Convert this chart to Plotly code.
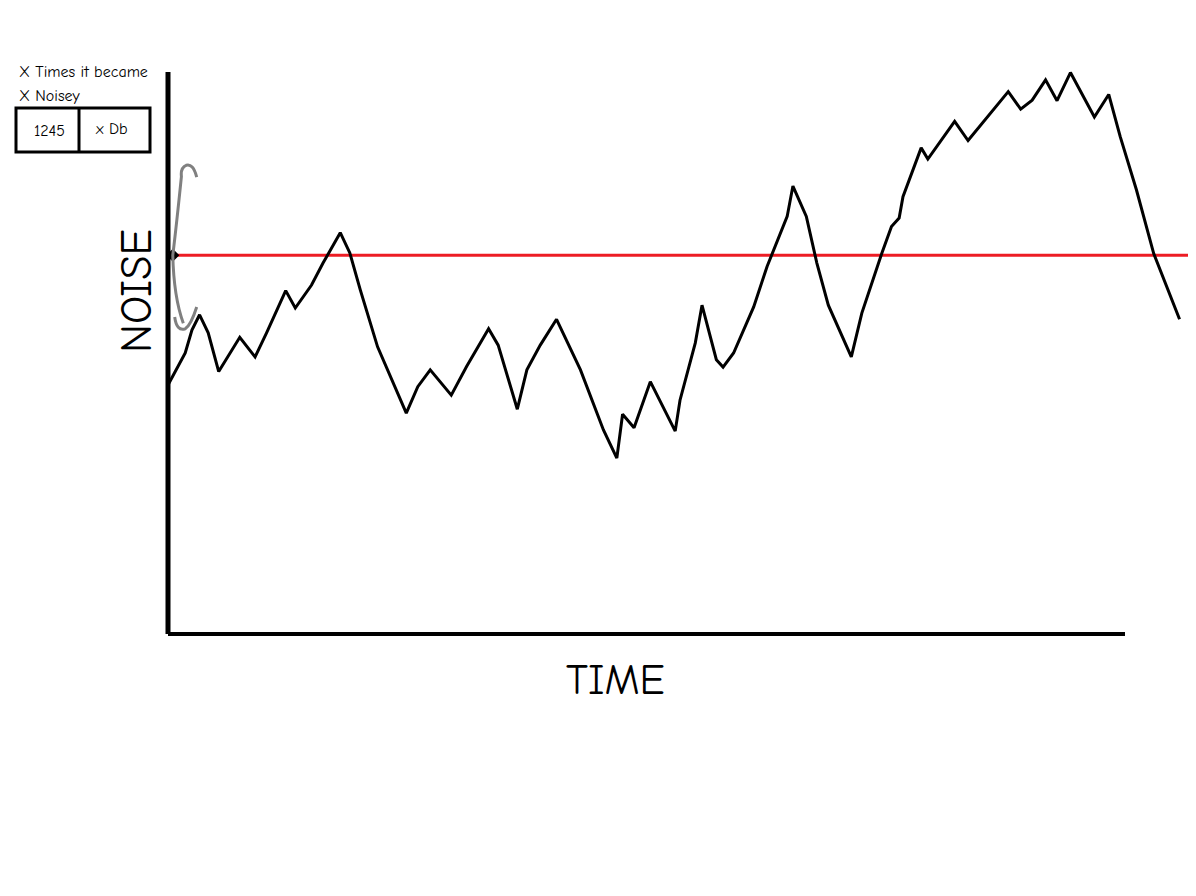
import plotly.graph_objects as go

# noise level over time (time 0-100 = length of x axis)
time = [0.0, 1.8, 2.5, 3.3, 4.2, 5.3, 7.5, 9.1, 10.3, 12.3, 13.3, 15.0, 16.2, 18.0, 19.0,
        20.1, 21.9, 24.9, 26.1, 27.4, 29.6, 31.2, 33.5, 34.5, 36.5, 37.5, 38.9, 40.6, 43.1,
        45.5, 46.9, 47.5, 48.7, 50.4, 53.0, 53.5, 55.1, 55.8, 57.3, 58.0, 59.1, 61.2, 62.6,
        64.7, 65.3, 66.7, 67.8, 69.0, 71.4, 72.5, 74.6, 75.6, 76.4, 76.8, 78.7, 79.4, 82.2,
        83.6, 87.8, 89.1, 90.3, 91.7, 92.9, 94.3, 96.8, 98.3, 99.5, 101.2, 103.0, 105.7]
noise = [44.3, 50.0, 54.1, 56.8, 53.6, 46.7, 52.8, 49.3, 53.6, 61.1, 58.0, 62.1, 66.0, 71.4, 67.8,
         61.2, 51.1, 39.3, 44.0, 47.0, 42.5, 47.6, 54.3, 51.4, 40.0, 47.0, 51.4, 56.0, 47.0,
         36.3, 31.3, 39.1, 36.7, 44.9, 36.1, 41.6, 51.8, 58.5, 48.8, 47.5, 50.0, 58.2, 65.4,
         74.3, 79.7, 74.3, 66.0, 58.5, 49.3, 57.1, 67.8, 72.5, 74.0, 77.8, 86.5, 84.5, 91.2,
         87.8, 96.5, 93.4, 95.0, 98.6, 94.9, 99.9, 92.0, 96.0, 88.5, 79.0, 67.7, 56.0]
threshold = 67.4
threshold_span = [0, 107.4]

box_values = ["1245", "x Db"]
title_lines = ["X Times it became", "X Noisey"]

FONT = "Comic Sans MS, Comic Neue, Lato, sans-serif"

# page puts the figure 8px in from the corner, so shift everything back by that
OFF = 8
W, H = 1196 - OFF, 896 - OFF
L, R, T, B = 142, 0, 0, 232
PW, PH = W - L - R, H - T - B


def px(x):
    return (x - OFF - L) / PW


def py(y):
    return (H - B - (y - OFF)) / PH


# sketch pixels -> data units
X0, XS = 168, 9.57
Y0, YS = 634, 5.62

fig = go.Figure()

fig.add_trace(go.Scatter(x=threshold_span, y=[threshold, threshold], mode="lines",
                         line=dict(color="#ED1C24", width=3), hoverinfo="skip"))
fig.add_trace(go.Scatter(x=time, y=noise, mode="lines",
                         line=dict(color="black", width=3), hoverinfo="skip"))
fig.add_trace(go.Scatter(x=[0.5], y=[threshold], mode="markers",
                         marker=dict(color="black", size=10, symbol="diamond"), hoverinfo="skip"))

shapes = [
    # axes
    dict(type="line", xref="x", yref="y", x0=0, x1=0, y0=0, y1=100, layer="below",
         line=dict(color="black", width=5)),
    dict(type="line", xref="x", yref="y", x0=0, x1=100, y0=0, y1=0, layer="below",
         line=dict(color="black", width=4)),
    # grey double arrow
    dict(type="path", xref="x", yref="y",
         path="M 3.0,81.3 Q 2.6,83.8 1.9,83.4 Q 1.3,83.0 1.4,81.4 Q 0.9,73.0 0.5,67.4 "
              "Q 0.6,60.0 1.6,55.3 M 0.7,56.4 Q 0.9,53.8 1.8,54.3 Q 2.4,55.0 3.0,58.2",
         line=dict(color="#808080", width=3)),
    # little table
    dict(type="rect", xref="paper", yref="paper", x0=px(16), x1=px(150), y0=py(152), y1=py(108),
         line=dict(color="black", width=3)),
    dict(type="line", xref="paper", yref="paper", x0=px(79), x1=px(79), y0=py(152), y1=py(108),
         line=dict(color="black", width=3)),
]

annotations = [
    dict(text=title_lines[0], x=px(17), y=py(72), xanchor="left"),
    dict(text=title_lines[1], x=px(17), y=py(96), xanchor="left"),
    dict(text=box_values[0], x=px(49), y=py(131), xanchor="center"),
    dict(text=box_values[1], x=px(111), y=py(129), xanchor="center"),
]
for a in annotations:
    a.update(xref="paper", yref="paper", yanchor="middle", showarrow=False,
             font=dict(family=FONT, size=16, color="black"))

annotations += [
    dict(text="NOISE", x=px(136), y=py(291), xref="paper", yref="paper", showarrow=False,
         xanchor="center", yanchor="middle", textangle=-90,
         font=dict(family=FONT, size=44, color="black")),
    dict(text="TIME", x=px(615), y=py(680), xref="paper", yref="paper", showarrow=False,
         xanchor="center", yanchor="middle",
         font=dict(family=FONT, size=42, color="black")),
]

fig.update_layout(
    width=W, height=H,
    margin=dict(l=L, r=R, t=T, b=B),
    plot_bgcolor="white", paper_bgcolor="white",
    showlegend=False,
    shapes=shapes,
    annotations=annotations,
    xaxis=dict(range=[(L + OFF - X0) / XS, (W + OFF - X0) / XS], visible=False),
    yaxis=dict(range=[(Y0 - (H - B + OFF)) / YS, (Y0 - OFF) / YS], visible=False),
)

fig.write_html("out.html")
